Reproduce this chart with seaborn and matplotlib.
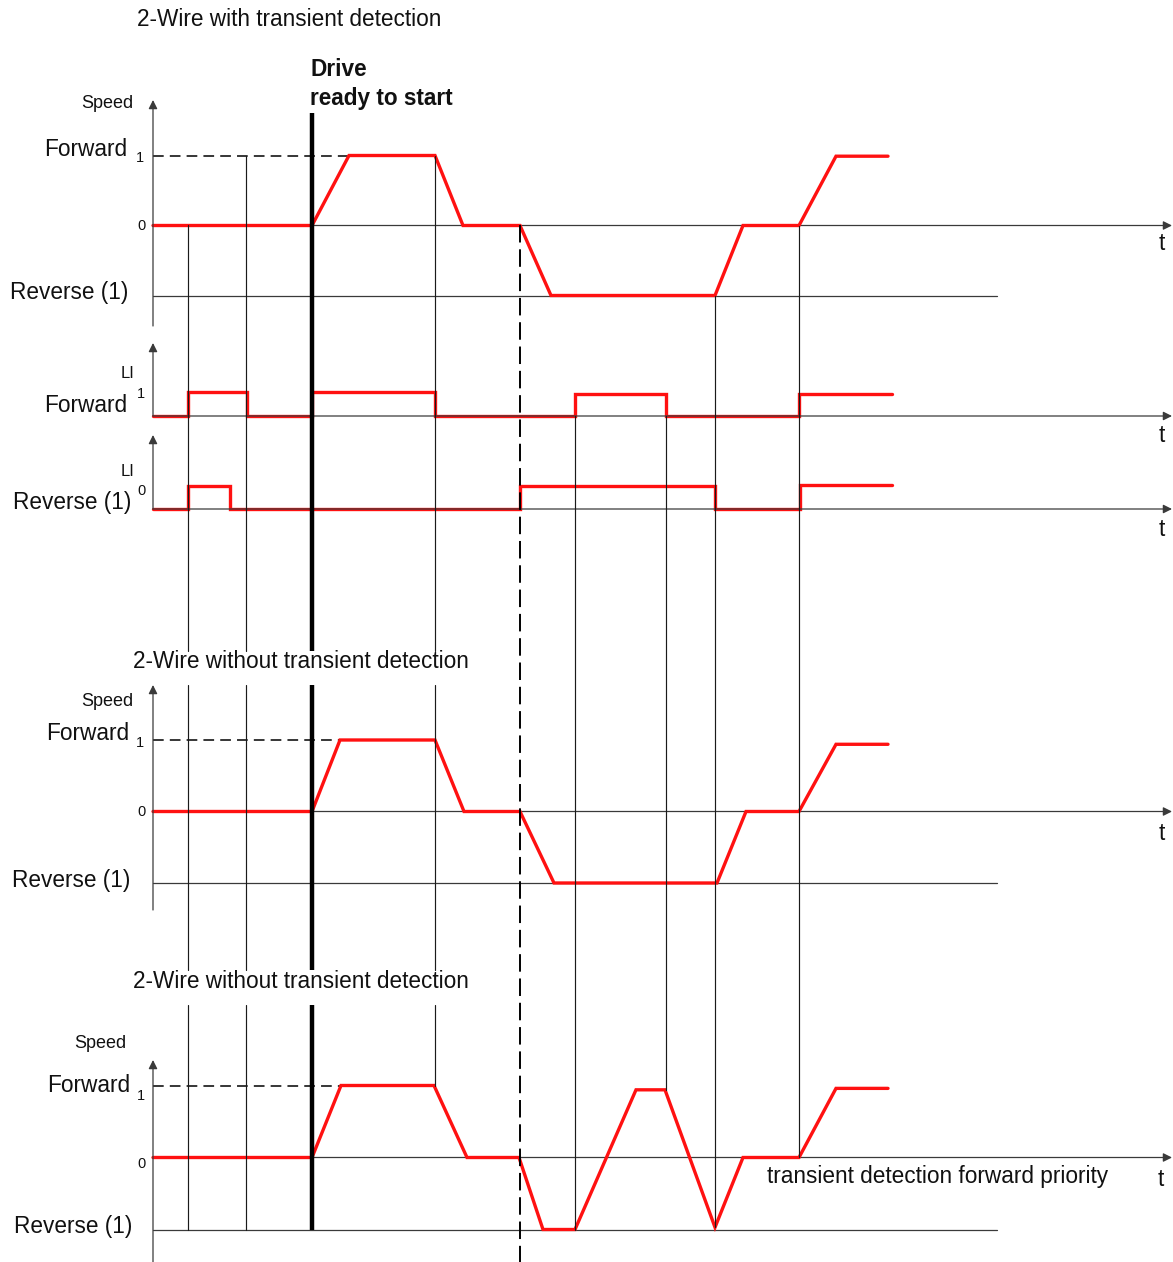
import matplotlib
matplotlib.use('Agg')
import matplotlib.pyplot as plt
import seaborn as sns

# ---- timing data (t = position along the shared time axis, level = signal value) ----
# 2-wire with transient detection: speed
speed_td_t = [153, 312, 349, 435, 463, 520, 551, 715, 743, 799, 836, 888]
speed_td_v = [0, 0, 1, 1, 0, 0, -1, -1, 0, 0, 0.99, 0.99]

# logic input Forward
li_fwd_t = [153, 188, 188, 247, 247, 312, 312, 435, 435, 575, 575, 666, 666, 799, 799, 892]
li_fwd_v = [0, 0, 1, 1, 0, 0, 1, 1, 0, 0, 0.92, 0.92, 0, 0, 0.92, 0.92]

# logic input Reverse
li_rev_t = [153, 188, 188, 230, 230, 520, 520, 715, 715, 800, 800, 892]
li_rev_v = [0, 0, 1, 1, 0, 0, 1, 1, 0, 0, 1.04, 1.04]

# 2-wire without transient detection: speed
speed_no_t = [153, 312, 340, 435, 464, 520, 554, 717, 746, 799, 836, 888]
speed_no_v = [0, 0, 1, 1, 0, 0, -1, -1, 0, 0, 0.94, 0.94]

# transient detection forward priority: speed
speed_prio_t = [153, 312, 341, 434, 467, 519, 543, 575, 636, 665, 715, 743, 799, 836, 888]
speed_prio_v = [0, 0, 1, 1, 0, 0, -1, -1, 0.94, 0.94, -0.97, 0, 0, 0.96, 0.96]

# event instants (thin guide lines)
event_t = [188, 246, 435, 575, 666, 715, 799]
drive_ready_t = 312
reverse_cmd_t = 520

W, H = 1173, 1262
RED = '#ff1111'
AXC = '#3a3a3a'

sns.set_theme(style='white')
plt.rcParams['font.family'] = ['Liberation Sans', 'DejaVu Sans']

fig = plt.figure(figsize=(W / 100, H / 100), dpi=100)


def panel(zero, amp):
    # full-figure axes whose level scale puts 0 at pixel row `zero`, 1 at `zero - amp`
    a = fig.add_axes([0, 0, 1, 1])
    a.set_xlim(0, W)
    a.set_ylim((zero - H) / amp, zero / amp)
    a.set_axis_off()
    return a


def t_axis(a, z):
    a.annotate('', xy=(W - 1, 0), xytext=(153, 0), zorder=z,
               arrowprops=dict(arrowstyle='-|>', color=AXC, lw=0.9,
                               mutation_scale=13, shrinkA=0, shrinkB=0))


ax1 = panel(225.5, 70)
ax2 = panel(416, 24)
ax3 = panel(509, 23)
ax4 = panel(811.5, 71.5)
ax5 = panel(1157.5, 72)

speed_panels = [(ax1, speed_td_t, speed_td_v, 350),
                (ax4, speed_no_t, speed_no_v, 340),
                (ax5, speed_prio_t, speed_prio_v, 341)]
for a, t, v, fwd_end in speed_panels:
    t_axis(a, 1)
    a.plot([153, 997], [-1, -1], color=AXC, lw=0.9, zorder=1)
    a.plot([153, fwd_end], [1, 1], color='black', lw=1.1, dashes=(7, 4), zorder=1)
    sns.lineplot(x=t, y=v, ax=a, color=RED, lw=2.4, sort=False, estimator=None,
                 solid_joinstyle='miter', zorder=2)

for a, t, v in [(ax2, li_fwd_t, li_fwd_v), (ax3, li_rev_t, li_rev_v)]:
    sns.lineplot(x=t, y=v, ax=a, color=RED, lw=2.4, sort=False, estimator=None,
                 solid_joinstyle='miter', zorder=2)
    t_axis(a, 3)

for a in [ax1, ax2, ax3, ax4, ax5]:
    a.set_xlim(0, W)
    a.set_xlabel('')
    a.set_ylabel('')

# ---- overlay in pixel units: guide lines, level axes, labels ----
ov = fig.add_axes([0, 0, 1, 1])
ov.set_xlim(0, W)
ov.set_ylim(H, 0)
ov.set_axis_off()

title_gaps = [(651, 685), (970, 1005)]


def vline(x, top, bottom, **kw):
    segs = [(top, bottom)]
    if x < 470:
        for g0, g1 in title_gaps:
            new = []
            for s0, s1 in segs:
                if s0 < g0 and s1 > g1:
                    new += [(s0, g0), (g1, s1)]
                else:
                    new.append((s0, s1))
            segs = new
    for s0, s1 in segs:
        ov.plot([x, x], [s0, s1], **kw)


event_top = [225, 156, 156, 416, 416, 296, 226]
event_bottom = [1230, 1230, 1086, 1230, 1090, 1227, 1157]
for x, y0, y1 in zip(event_t, event_top, event_bottom):
    vline(x, y0, y1, color='#1a1a1a', lw=0.85)
vline(drive_ready_t, 113, 1230, color='black', lw=3.2, solid_capstyle='butt')
ov.plot([reverse_cmd_t, reverse_cmd_t], [225, H], color='black', lw=1.4, dashes=(9, 3.5))

# level axes (vertical arrows)
for y_bot, y_top in [(326, 100), (416, 343), (509, 435), (910, 685), (H, 1060)]:
    ov.annotate('', xy=(153, y_top), xytext=(153, y_bot),
                arrowprops=dict(arrowstyle='-|>', color=AXC, lw=0.9,
                                mutation_scale=13, shrinkA=0, shrinkB=0))

BIG = 16.3
labels = [
    (137, 19, '2-Wire with transient detection', 'left', BIG, 'normal'),
    (310, 69, 'Drive', 'left', BIG, 'bold'),
    (310, 98, 'ready to start', 'left', BIG, 'bold'),
    (133, 103, 'Speed', 'right', 13, 'normal'),
    (127, 150, 'Forward', 'right', BIG, 'normal'),
    (140, 158, '1', 'center', 10.5, 'normal'),
    (142, 226, '0', 'center', 10.5, 'normal'),
    (128, 292, 'Reverse (1)', 'right', BIG, 'normal'),
    (1162, 244, 't', 'center', BIG, 'normal'),
    (128, 374, 'LI', 'center', 12, 'normal'),
    (141, 394, '1', 'center', 10.5, 'normal'),
    (127, 405, 'Forward', 'right', BIG, 'normal'),
    (1162, 436, 't', 'center', BIG, 'normal'),
    (128, 472, 'LI', 'center', 12, 'normal'),
    (142, 491, '0', 'center', 10.5, 'normal'),
    (131, 503, 'Reverse (1)', 'right', BIG, 'normal'),
    (1162, 529, 't', 'center', BIG, 'normal'),
    (133, 661, '2-Wire without transient detection', 'left', BIG, 'normal'),
    (133, 702, 'Speed', 'right', 13, 'normal'),
    (129, 734, 'Forward', 'right', BIG, 'normal'),
    (140, 743, '1', 'center', 10.5, 'normal'),
    (142, 812, '0', 'center', 10.5, 'normal'),
    (130, 880, 'Reverse (1)', 'right', BIG, 'normal'),
    (1162, 834, 't', 'center', BIG, 'normal'),
    (133, 982, '2-Wire without transient detection', 'left', BIG, 'normal'),
    (126, 1044, 'Speed', 'right', 13, 'normal'),
    (130, 1086, 'Forward', 'right', BIG, 'normal'),
    (141, 1096, '1', 'center', 10.5, 'normal'),
    (142, 1164, '0', 'center', 10.5, 'normal'),
    (132, 1226, 'Reverse (1)', 'right', BIG, 'normal'),
    (1161, 1179, 't', 'center', BIG, 'normal'),
    (767, 1177, 'transient detection forward priority', 'left', BIG, 'normal'),
]
for x, y, s, ha, fs, fw in labels:
    ov.text(x, y, s, ha=ha, va='center', fontsize=fs, fontweight=fw, color='#111111')

fig.savefig('out.png', dpi=100, facecolor='white')
